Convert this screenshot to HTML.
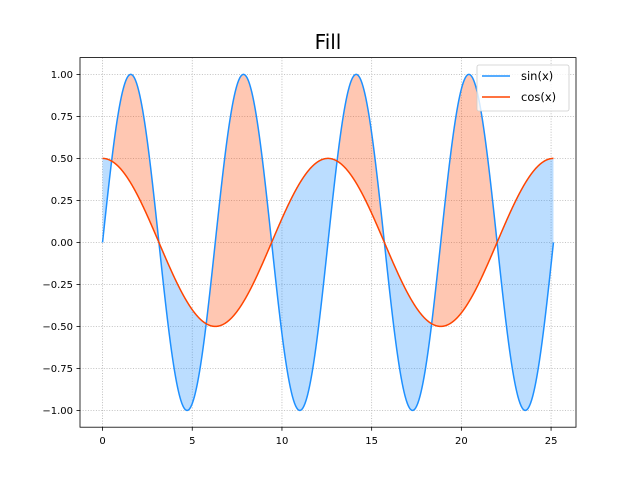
<!DOCTYPE html>
<html><head><meta charset="utf-8"><style>body{margin:0;background:#fff}svg{display:block;font-family:"DejaVu Sans","Liberation Sans",sans-serif}</style></head>
<body>
<svg id="c" width="640" height="480"></svg>
<script>
// data: the figure plots y1 = A1*sin(f1*x) and y2 = A2*cos(f2*x) on x in [0, xMax]
const seriesNames = ["sin(x)", "cos(x)"];
const amplitudes = [1.0, 0.5];
const frequencies = [1.0, 0.5];
const xMax = 8 * Math.PI;
const xTicks = [0, 5, 10, 15, 20, 25];
const yTicks = [-1.0, -0.75, -0.5, -0.25, 0.0, 0.25, 0.5, 0.75, 1.0];
const yTickLabels = ["−1.00","−0.75","−0.50","−0.25","0.00","0.25","0.50","0.75","1.00"];

const NS = "http://www.w3.org/2000/svg";
const svg = document.getElementById("c");
const L = 80, R = 576, T = 57.6, B = 427.2;
const xmin = -0.05 * xMax, xmax = 1.05 * xMax, ymin = -1.1, ymax = 1.1;
const sx = v => L + (v - xmin) / (xmax - xmin) * (R - L);
const sy = v => B - (v - ymin) / (ymax - ymin) * (B - T);
function mk(tag, attrs, parent) { const e = document.createElementNS(NS, tag); for (const k in attrs) e.setAttribute(k, attrs[k]); (parent || svg).appendChild(e); return e; }

const N = 2000;
const xs = [], y1 = [], y2 = [];
for (let i = 0; i <= N; i++) { const x = xMax * i / N; xs.push(x); y1.push(amplitudes[0] * Math.sin(frequencies[0] * x)); y2.push(amplitudes[1] * Math.cos(frequencies[1] * x)); }

// grid
xTicks.forEach(t => { const g = mk("line", {x1: sx(t), x2: sx(t), y1: T, y2: B, stroke: "#b0b0b0", "stroke-width": 0.8, "stroke-dasharray": "1,1.65"});   });
yTicks.forEach(t => { const g = mk("line", {x1: L, x2: R, y1: sy(t), y2: sy(t), stroke: "#b0b0b0", "stroke-width": 0.8, "stroke-dasharray": "1,1.65"});   });

// fills
let start = 0;
function region(a, b) {
  const m = Math.floor((a + b) / 2);
  const above = y1[m] > y2[m];
  let d = "";
  for (let i = a; i <= b; i++) d += (i === a ? "M" : "L") + sx(xs[i]) + "," + sy(y1[i]);
  for (let i = b; i >= a; i--) d += "L" + sx(xs[i]) + "," + sy(y2[i]);
  const p = mk("path", {d: d + "Z", fill: above ? "#ff4500" : "#1e90ff", "fill-opacity": 0.3, stroke: "none"});
  
  
}
for (let i = 1; i <= N; i++) {
  const s0 = Math.sign(y1[i - 1] - y2[i - 1]), s1 = Math.sign(y1[i] - y2[i]);
  if (s0 !== s1 && s0 !== 0) { region(start, i); start = i; }
}
region(start, N);

// lines
const colors = ["#1e90ff", "#ff4500"];
[y1, y2].forEach((ys, k) => {
  let d = ""; ys.forEach((v, i) => d += (i ? "L" : "M") + sx(xs[i]).toFixed(2) + "," + sy(v).toFixed(2));
  const p = mk("path", {d, fill: "none", stroke: colors[k], "stroke-width": 1.5});
  
  
});

// axes frame
const fr = mk("rect", {x: L, y: T, width: R - L, height: B - T, fill: "none", stroke: "#000", "stroke-width": 0.8});



xTicks.forEach(t => {
  mk("line", {x1: sx(t), x2: sx(t), y1: B, y2: B + 3.5, stroke: "#000", "stroke-width": 0.8});
  const tx = mk("text", {x: sx(t), y: B + 17, "text-anchor": "middle", "font-size": 10});
  tx.textContent = t;
  
  
});
yTicks.forEach((t, i) => {
  mk("line", {x1: L - 3.5, x2: L, y1: sy(t), y2: sy(t), stroke: "#000", "stroke-width": 0.8});
  const tx = mk("text", {x: L - 7, y: sy(t) + 3.5, "text-anchor": "end", "font-size": 10});
  tx.textContent = yTickLabels[i];
  
  
});

const title = mk("text", {x: (L + R) / 2, y: 49, "text-anchor": "middle", "font-size": 20});
title.textContent = "Fill";



// legend
const lg = mk("g", {});


mk("rect", {x: 477, y: 65, width: 92, height: 46, rx: 2, fill: "#fff", "fill-opacity": 0.8, stroke: "#ccc", "stroke-width": 0.8}, lg);
seriesNames.forEach((n, k) => {
  const y = 76 + k * 21;
  const e = mk("g", {}, lg);
  
  
  mk("line", {x1: 482, x2: 510, y1: y, y2: y, stroke: colors[k], "stroke-width": 1.5}, e);
  const tx = mk("text", {x: 521, y: y + 4, "font-size": 11.5}, e);
  tx.textContent = n;
});
</script>
</body></html>
